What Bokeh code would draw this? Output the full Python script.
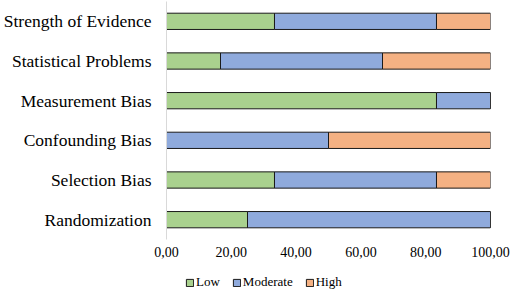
from bokeh.plotting import figure
from bokeh.layouts import column
from bokeh.models import Range1d, FixedTicker, ColumnDataSource, Legend
from bokeh.embed import file_html
from bokeh.resources import INLINE

# Data (top to bottom as shown)
categories = ["Strength of Evidence", "Statistical Problems", "Measurement Bias",
              "Confounding Bias", "Selection Bias", "Randomization"]
low = [33.33, 16.67, 83.33, 0.0, 33.33, 25.0]
moderate = [50.0, 50.0, 16.67, 50.0, 50.0, 75.0]
high = [16.67, 33.33, 0.0, 50.0, 16.67, 0.0]
series = ["Low", "Moderate", "High"]
colors = ["#A9D18E", "#8FAADC", "#F4B183"]
x_ticks = [0, 20, 40, 60, 80, 100]
x_tick_labels = ["0,00", "20,00", "40,00", "60,00", "80,00", "100,00"]

n = len(categories)
ypos = [n - 1 - i for i in range(n)]

source = ColumnDataSource(dict(y=ypos, Low=low, Moderate=moderate, High=high))

FONT = "Liberation Serif"
EDGE = "#1a1a1a"

# ---- main chart ----
p = figure(frame_width=324, frame_height=238, output_backend="svg", toolbar_location=None,
           x_range=Range1d(0, 100), y_range=Range1d(-0.5, n - 0.5),
           min_border_top=1, min_border_bottom=23, min_border_right=20,
           min_border_left=166)

p.hbar_stack(series, y="y", height=0.41, source=source,
             color=colors, line_color=EDGE, line_width=1)

p.xgrid.visible = False
p.ygrid.visible = False
p.outline_line_color = None

p.xaxis.ticker = FixedTicker(ticks=x_ticks)
p.xaxis.major_label_overrides = {t: l for t, l in zip(x_ticks, x_tick_labels)}
p.xaxis.axis_line_color = None
p.xaxis.major_tick_line_color = None
p.xaxis.minor_tick_line_color = None
p.xaxis.major_tick_out = 0
p.xaxis.major_label_standoff = 7
p.xaxis.major_label_text_font = FONT
p.xaxis.major_label_text_font_size = "14px"
p.xaxis.major_label_text_color = "#000000"

p.yaxis.ticker = FixedTicker(ticks=ypos)
p.yaxis.major_label_overrides = {y: c for y, c in zip(ypos, categories)}
p.yaxis.axis_line_color = "#d9d9d9"
p.yaxis.axis_line_width = 1
p.yaxis.major_tick_line_color = None
p.yaxis.minor_tick_line_color = None
p.yaxis.major_tick_out = 0
p.yaxis.major_label_standoff = 15
p.yaxis.major_label_text_font = FONT
p.yaxis.major_label_text_font_size = "17.5px"
p.yaxis.major_label_text_color = "#000000"

# ---- legend strip (its frame is aligned with the chart frame) ----
lg = figure(width=510, height=29, output_backend="svg", toolbar_location=None,
            x_axis_type=None, y_axis_type=None,
            x_range=Range1d(0, 100), y_range=Range1d(100, 101),
            min_border=0)
lg.xgrid.visible = False
lg.ygrid.visible = False
lg.outline_line_color = None

# same stacked bars, kept out of this strip's view; used only as legend keys
keys = lg.hbar_stack(series, y="y", height=0.41, source=source,
                     color=colors, line_color=EDGE, line_width=1)

legend = Legend(items=[(s, [r]) for s, r in zip(series, keys)],
                orientation="horizontal", location=(19, 1))
legend.label_text_font = FONT
legend.label_text_font_size = "13px"
legend.label_text_color = "#000000"
legend.glyph_width = 9
legend.glyph_height = 9
legend.label_height = 14
legend.label_standoff = 2
legend.spacing = 12
legend.padding = 0
legend.margin = 0
legend.border_line_color = None
legend.background_fill_alpha = 0
lg.add_layout(legend, "center")

layout = column(p, lg, spacing=0)

open("out.html", "w").write(file_html(layout, INLINE))
